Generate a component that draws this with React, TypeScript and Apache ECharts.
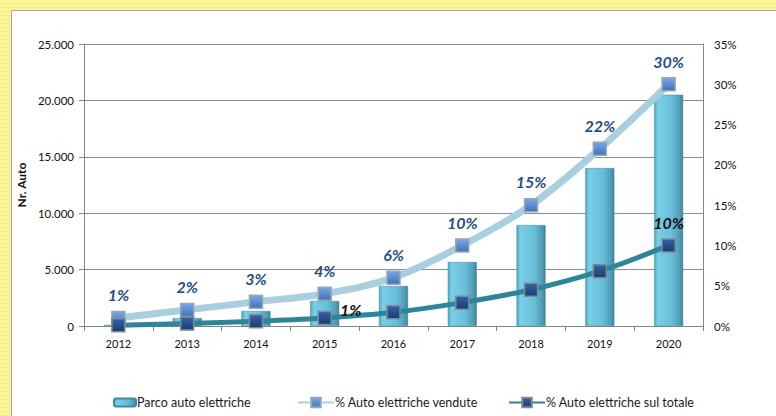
import React, { useEffect, useRef } from "react";
import * as echarts from "echarts";

const years = ["2012", "2013", "2014", "2015", "2016", "2017", "2018", "2019", "2020"];
const parcoAuto = [100, 700, 1330, 2220, 3550, 5670, 8950, 14000, 20500];
const pctVendute = [1, 2, 3, 4, 6, 10, 15, 22, 30];
const pctTotale = [0.1, 0.3, 0.6, 1.0, 1.7, 2.9, 4.5, 6.8, 10];
const totaleLabelIdx = [3, 8];

const FONT = "Lato, 'Open Sans', sans-serif";

export default function App() {
  const ref = useRef<HTMLDivElement>(null);
  useEffect(() => {
    if (!ref.current) return;
    const chart = echarts.init(ref.current, undefined, { renderer: "svg" });
    const barColor = new echarts.graphic.LinearGradient(0, 0, 1, 0, [
      { offset: 0, color: "#4FA3BE" },
      { offset: 0.12, color: "#79CFE7" },
      { offset: 0.6, color: "#68BFDA" },
      { offset: 0.9, color: "#4F9BB4" },
      { offset: 1, color: "#3D7F96" },
    ]);
    const lightMarker = new echarts.graphic.LinearGradient(0, 0, 0, 1, [
      { offset: 0, color: "#7AA8E6" },
      { offset: 1, color: "#3F72B8" },
    ]);
    const darkMarker = new echarts.graphic.LinearGradient(0, 0, 0, 1, [
      { offset: 0, color: "#3563A3" },
      { offset: 1, color: "#173E73" },
    ]);
    const axisGray = "#868686";
    const legendText = { fontSize: 12.5, color: "#1a1a1a", fontFamily: FONT, padding: [0, 0, 0, -4] };
    chart.setOption({
      animation: false,
      textStyle: { fontFamily: FONT },
      grid: { left: 84, right: 73, top: 44, bottom: 90 },
      legend: [
        {
          data: ["Parco auto elettriche"],
          left: 113,
          top: 396,
          padding: 0,
          itemWidth: 22,
          itemHeight: 8,
          textStyle: legendText,
        },
        {
          data: ["% Auto elettriche vendute"],
          left: 297,
          top: 396,
          padding: 0,
          itemWidth: 36,
          itemHeight: 12,
          textStyle: legendText,
        },
        {
          data: ["% Auto elettriche sul totale"],
          left: 508,
          top: 396,
          padding: 0,
          itemWidth: 36,
          itemHeight: 12,
          textStyle: legendText,
        },
      ],
      xAxis: {
        type: "category",
        data: years,
        boundaryGap: true,
        axisLine: { lineStyle: { color: axisGray } },
        axisTick: { show: true, length: 5, lineStyle: { color: axisGray } },
        axisLabel: { fontSize: 11, color: "#111", margin: 12, fontFamily: FONT },
      },
      yAxis: [
        {
          type: "value",
          min: 0,
          max: 25000,
          interval: 5000,
          name: "Nr. Auto",
          nameLocation: "middle",
          nameRotate: 90,
          nameGap: 52,
          nameTextStyle: { fontSize: 12, fontWeight: "bold", color: "#111", fontFamily: FONT },
          axisLine: { show: true, lineStyle: { color: axisGray } },
          axisTick: { show: true, length: 5, lineStyle: { color: axisGray } },
          splitLine: { show: true, lineStyle: { color: "#8c8c8c", width: 1 } },
          axisLabel: {
            fontSize: 11.5,
            color: "#111",
            margin: 10,
            fontFamily: FONT,
            formatter: (v: number) => (v === 0 ? "0" : v.toLocaleString("de-DE")),
          },
        },
        {
          type: "value",
          min: 0,
          max: 35,
          interval: 5,
          position: "right",
          axisLine: { show: true, lineStyle: { color: axisGray } },
          axisTick: { show: false },
          splitLine: { show: false },
          axisLabel: {
            fontSize: 11.5,
            color: "#111",
            margin: 11,
            fontFamily: FONT,
            formatter: (v: number) => `${v}%`,
          },
        },
      ],
      series: [
        {
          name: "Parco auto elettriche",
          type: "bar",
          data: parcoAuto,
          barWidth: 29,
          itemStyle: { color: barColor, borderColor: "#3F8AA3", borderWidth: 0.5 },
          z: 2,
        },
        {
          name: "% Auto elettriche vendute",
          type: "line",
          yAxisIndex: 1,
          smooth: 0.35,
          data: pctVendute,
          symbol: "rect",
          symbolSize: 13,
          lineStyle: { color: "#A8CFDD", width: 7 },
          itemStyle: { color: lightMarker, borderColor: "#9AA6B2", borderWidth: 1.5 },
          label: {
            show: true,
            position: "top",
            distance: 8,
            fontSize: 16,
            fontWeight: "bold",
            fontStyle: "italic",
            color: "#1F4E8C",
            fontFamily: FONT,
            formatter: (p: any) => `${Math.round(p.value)}%`,
          },
          z: 4,
        },
        {
          name: "% Auto elettriche sul totale",
          type: "line",
          yAxisIndex: 1,
          smooth: 0.35,
          data: pctTotale.map((v, i) => ({
            value: v,
            label: totaleLabelIdx.includes(i)
              ? i === 3
                ? { show: true, position: "right", distance: 8, offset: [0, -8] }
                : { show: true, position: "top", distance: 8 }
              : { show: false },
          })),
          symbol: "rect",
          symbolSize: 13,
          lineStyle: { color: "#2E8499", width: 5 },
          itemStyle: { color: darkMarker, borderColor: "#7D8A97", borderWidth: 1.5 },
          label: {
            fontSize: 16,
            fontWeight: "bold",
            fontStyle: "italic",
            color: "#111",
            fontFamily: FONT,
            formatter: (p: any) => `${Math.round(p.value)}%`,
          },
          z: 5,
        },
      ],
    });
    return () => chart.dispose();
  }, []);

  return (
    <div
      style={{
        position: "fixed",
        left: 0,
        top: 0,
        width: 776,
        height: 416,
        overflow: "hidden",
        background:
          "repeating-linear-gradient(0deg, #F5EE7A 0px, #F5EE7A 1px, #FBF59C 1px, #FBF59C 4px), #FBF59C",
      }}
    >
      <div
        style={{
          position: "absolute",
          left: 11,
          top: 10,
          width: 800,
          height: 440,
          background: "#ffffff",
          borderLeft: "1px solid #A8A8A8",
          borderTop: "1px solid #A8A8A8",
        }}
      />
      <div ref={ref} style={{ position: "absolute", left: 0, top: 0, width: 776, height: 416 }} />
    </div>
  );
}
